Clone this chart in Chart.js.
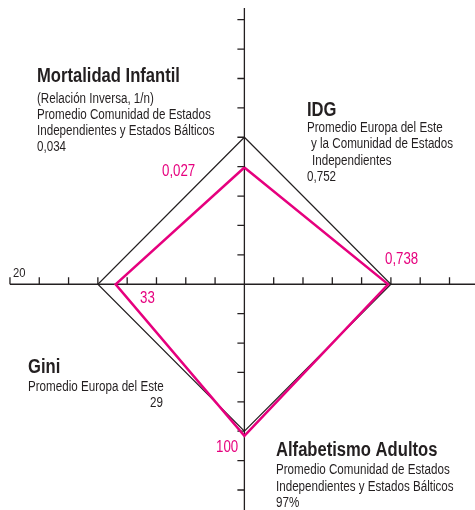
<!DOCTYPE html>
<html>
<head>
<meta charset="utf-8">
<script src="https://cdn.jsdelivr.net/npm/chart.js@4.4.0/dist/chart.umd.min.js"></script>
<style>
  body { margin: 0; background: #fff; }
  canvas { display: block; }
</style>
</head>
<body>
<canvas id="diamondChart" width="475" height="510"></canvas>
<script>
// indicators, clockwise from the top
var indicators = ["Mortalidad Infantil", "IDG", "Alfabetismo Adultos", "Gini"];
var promedio = [0.034, 0.752, 97, 29];     // regional averages (black diamond)
var pais = [0.027, 0.738, 100, 33];        // country values (pink diamond)
var paisLabels = ["0,027", "0,738", "100", "33"];
var inversa = [false, false, false, true]; // Gini drawn as inverse
var xTicks = [-8, -7, -6, -5, -4, -3, -2, -1, 1, 2, 3, 4, 5, 6, 7];
var yTicks = [-7, -6, -5, -4, -3, -2, -1, 1, 2, 3, 4, 5, 6, 7, 8, 9];
var axisEndLabel = "20";

var REF = 5; // average sits on the 5th tick of each arm
var dirs = [[0, 1], [1, 0], [0, -1], [-1, 0]];

function diamond(values) {
    var pts = values.map(function (v, i) {
        var r = inversa[i] ? promedio[i] / v * REF : v / promedio[i] * REF;
        return { x: dirs[i][0] * r, y: dirs[i][1] * r };
    });
    pts.push(pts[0]);
    return pts;
}

var FONT = "'Liberation Sans', Arial, sans-serif";
var NARROW = 0.83; // squeeze Arial-like glyphs into a condensed look
var INK = "#231f20";
var PINK = "#e6007e";

function narrowText(ctx, text, x, y, align) {
    ctx.save();
    ctx.translate(x, y);
    ctx.scale(NARROW, 1);
    ctx.textAlign = align || "left";
    ctx.fillText(text, 0, 0);
    ctx.restore();
}

var axesPlugin = {
    id: "crossAxes",
    beforeDatasetsDraw: function (chart) {
        var ctx = chart.ctx;
        var sx = chart.scales.x, sy = chart.scales.y;
        var cx = sx.getPixelForValue(0), cy = sy.getPixelForValue(0);
        ctx.save();
        ctx.strokeStyle = INK;
        ctx.lineWidth = 1.3;
        ctx.beginPath();
        ctx.moveTo(sx.getPixelForValue(-8), cy);
        ctx.lineTo(chart.width, cy);
        ctx.moveTo(cx, sy.getPixelForValue(9.4));
        ctx.lineTo(cx, chart.height);
        xTicks.forEach(function (t) {
            var px = sx.getPixelForValue(t);
            ctx.moveTo(px, cy);
            ctx.lineTo(px, cy - 7);
        });
        yTicks.forEach(function (t) {
            var py = sy.getPixelForValue(t);
            ctx.moveTo(cx, py);
            ctx.lineTo(cx - 7, py);
        });
        ctx.stroke();
        ctx.restore();
    },
    afterDatasetsDraw: function (chart) {
        var ctx = chart.ctx;
        ctx.save();
        ctx.textBaseline = "alphabetic";

        function block(x, y, title, lines) {
            ctx.fillStyle = INK;
            ctx.font = "bold 20px " + FONT;
            narrowText(ctx, title, x, y);
            ctx.font = "14px " + FONT;
            lines.forEach(function (l) {
                narrowText(ctx, l[0], x + (l[2] || 0), l[1]);
            });
        }

        block(37, 82, indicators[0], [
            ["(Relación Inversa, 1/n)", 103],
            ["Promedio Comunidad de Estados", 119],
            ["Independientes y Estados Bálticos", 135],
            [String(promedio[0]).replace(".", ","), 151]
        ]);
        block(307, 116, indicators[1], [
            ["Promedio Europa del Este", 132],
            ["y la Comunidad de Estados", 148, 4],
            ["Independientes", 165, 5],
            [String(promedio[1]).replace(".", ","), 181]
        ]);
        block(28, 373, indicators[3], [
            ["Promedio Europa del Este", 391]
        ]);
        narrowText(ctx, String(promedio[3]), 163, 407, "right");
        block(276, 456, indicators[2], [
            ["Promedio Comunidad de Estados", 474],
            ["Independientes y Estados Bálticos", 491],
            [promedio[2] + "%", 507]
        ]);

        ctx.font = "13.5px " + FONT;
        narrowText(ctx, axisEndLabel, 13, 277);

        ctx.fillStyle = PINK;
        ctx.font = "16px " + FONT;
        narrowText(ctx, paisLabels[0], 162, 176);
        narrowText(ctx, paisLabels[1], 385, 264);
        narrowText(ctx, paisLabels[3], 140, 303);
        narrowText(ctx, paisLabels[2], 216, 452);
        ctx.restore();
    }
};

var ctx = document.getElementById("diamondChart").getContext("2d");
var chart = new Chart(ctx, {
    type: "scatter",
    data: {
        datasets: [{
            label: "Promedio",
            data: diamond(promedio),
            showLine: true,
            borderColor: INK,
            borderWidth: 1.2,
            pointRadius: 0,
            borderJoinStyle: "miter",
            order: 2
        }, {
            label: "País",
            data: diamond(pais),
            showLine: true,
            borderColor: PINK,
            borderWidth: 2.5,
            pointRadius: 0,
            borderJoinStyle: "miter",
            order: 1
        }]
    },
    options: {
        responsive: false,
        animation: false,
        layout: { padding: 0 },
        plugins: {
            legend: { display: false },
            tooltip: { enabled: false }
        },
        scales: {
            x: { type: "linear", min: -8.34, max: 7.87, display: false },
            y: { type: "linear", min: -7.68, max: 9.67, display: false }
        }
    },
    plugins: [axesPlugin]
});
</script>
</body>
</html>
